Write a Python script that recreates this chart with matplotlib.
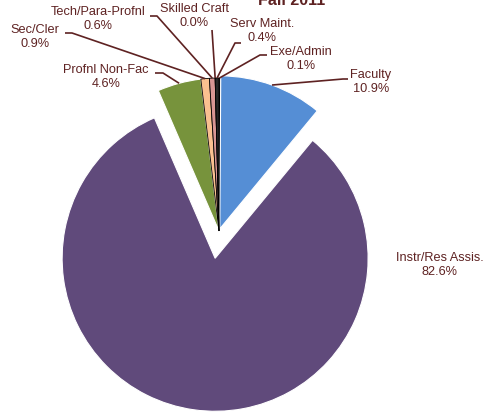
import matplotlib
matplotlib.use('Agg')
import matplotlib.pyplot as plt
import numpy as np

plt.rcParams['font.family'] = ['Liberation Sans', 'DejaVu Sans']

# data (clockwise from 12 o'clock)
categories = ['Exe/Admin', 'Faculty', 'Instr/Res Assis.', 'Profnl Non-Fac',
              'Sec/Cler', 'Tech/Para-Profnl', 'Skilled Craft', 'Serv Maint.']
shares = [0.1, 10.9, 82.6, 4.6, 0.9, 0.6, 0.0, 0.4]
colors = ['#dce6f2', '#558ed5', '#604a7b', '#77933c',
          '#fac090', '#d99694', '#a6a6a6', '#262626']
explode = [0, 0.015, 0.18, 0, 0, 0, 0, 0]

txt_col = '#5e2222'

W, H = 493, 413
R = 153.0
CX, CY = 219.0, 231.0


def px(x, y):
    # image pixels -> data units (pie radius = 1)
    return (x - CX) / R, (CY - y) / R


fig = plt.figure(figsize=(W / 100, H / 100), dpi=100)
ax = fig.add_axes([0, 0, 1, 1])
wedges, _ = ax.pie(shares, colors=colors, explode=explode, startangle=90,
                   counterclock=False, radius=1.0,
                   wedgeprops=dict(linewidth=0.8, edgecolor='white'))
for w, s in zip(wedges, shares):
    if s < 1:
        w.set_edgecolor('black')
        w.set_linewidth(0.6)

ax.set_xlim(-CX / R, (W - CX) / R)
ax.set_ylim(-(H - CY) / R, CY / R)
ax.set_aspect('equal')
ax.axis('off')

# label placement in pixels: text centre, elbow, end of horizontal stub
label_pos = {
    'Exe/Admin': ((301, 59), (260, 55), (267, 55)),
    'Faculty': ((371, 82), (343, 79), (348, 79)),
    'Instr/Res Assis.': ((440, 265), None, None),
    'Profnl Non-Fac': ((106, 77), (163, 73), (155, 73)),
    'Sec/Cler': ((35, 37), (72, 33), (65, 33)),
    'Tech/Para-Profnl': ((98, 19), (157, 16), (150, 16)),
    'Skilled Craft': ((194, 16), (212, 30), (212, 30)),
    'Serv Maint.': ((262, 31), (235, 43), (241, 43)),
}

for w, cat, s in zip(wedges, categories, shares):
    tpos, elbow, stub = label_pos[cat]
    tx, ty = px(*tpos)
    ax.text(tx, ty, f'{cat}\n{s:.1f}%', ha='center', va='center',
            fontsize=9.2, color=txt_col, linespacing=1.2)
    if elbow is None:
        continue
    mid = np.deg2rad((w.theta1 + w.theta2) / 2)
    cx, cy = w.center
    ax_, ay_ = cx + w.r * np.cos(mid), cy + w.r * np.sin(mid)
    ex, ey = px(*elbow)
    sx, sy = px(*stub)
    ax.plot([ax_, ex, sx], [ay_, ey, sy], color=txt_col, lw=1.2,
            solid_capstyle='butt')

fig.text(291.5 / W, 1 - 5 / H, 'Fall 2011', ha='center', va='baseline',
         fontsize=11.5, fontweight='bold', color=txt_col)

fig.savefig('out.png', dpi=100)
